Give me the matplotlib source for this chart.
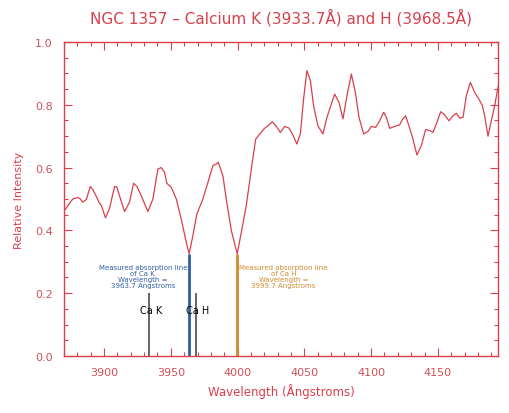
import numpy as np
import matplotlib
matplotlib.use("Agg")
import matplotlib.pyplot as plt
from matplotlib.ticker import MultipleLocator

# espectro de NGC 1357 (comprimento de onda em Angstroms, intensidade relativa)
wavelength = [3869.7, 3876.6, 3880.4, 3882.2, 3884.1, 3886.7, 3889.7, 3891.6, 3894.6, 3896.1,
              3897.9, 3901.1, 3904.1, 3907.9, 3909.6, 3911.6, 3915.4, 3919.1, 3922.1, 3924.6,
              3927.9, 3932.8, 3936.6, 3940.3, 3942.8, 3945.3, 3947.0, 3950.3, 3954.1, 3957.8,
              3961.0, 3963.7, 3966.5, 3969.5, 3974.0, 3977.8, 3981.5, 3984.0, 3985.5, 3989.0,
              3991.5, 3995.3, 3999.7, 4002.8, 4006.5, 4010.3, 4013.5, 4016.5, 4020.2, 4022.7,
              4026.0, 4029.0, 4032.0, 4035.2, 4038.4, 4041.4, 4044.4, 4047.0, 4049.4, 4051.9,
              4054.5, 4056.9, 4060.1, 4063.9, 4066.9, 4069.4, 4072.7, 4075.9, 4078.9, 4081.9,
              4085.2, 4088.4, 4090.9, 4094.4, 4097.6, 4100.1, 4103.4, 4106.4, 4109.4, 4111.4,
              4113.9, 4117.6, 4121.3, 4123.4, 4125.8, 4128.3, 4131.3, 4134.3, 4137.6, 4140.8,
              4143.8, 4146.3, 4149.3, 4152.1, 4155.1, 4158.3, 4161.3, 4163.8, 4166.3, 4168.8,
              4171.3, 4174.3, 4177.5, 4180.7, 4183.3, 4185.0, 4187.5, 4190.0, 4192.5, 4195.0]
intensity = [0.460, 0.500, 0.505, 0.500, 0.490, 0.498, 0.540, 0.530, 0.505, 0.490,
             0.480, 0.440, 0.470, 0.540, 0.538, 0.510, 0.460, 0.490, 0.550, 0.540,
             0.510, 0.460, 0.500, 0.595, 0.600, 0.585, 0.550, 0.537, 0.500, 0.436,
             0.373, 0.325, 0.383, 0.452, 0.500, 0.553, 0.606, 0.611, 0.617, 0.574,
             0.500, 0.400, 0.325, 0.394, 0.479, 0.596, 0.690, 0.707, 0.725, 0.733,
             0.746, 0.731, 0.712, 0.731, 0.726, 0.704, 0.675, 0.707, 0.818, 0.909,
             0.877, 0.797, 0.733, 0.707, 0.760, 0.792, 0.834, 0.808, 0.755, 0.829,
             0.898, 0.834, 0.760, 0.707, 0.715, 0.731, 0.728, 0.749, 0.776, 0.760,
             0.725, 0.731, 0.736, 0.753, 0.765, 0.733, 0.691, 0.640, 0.670, 0.721,
             0.718, 0.712, 0.744, 0.778, 0.768, 0.749, 0.765, 0.773, 0.757, 0.760,
             0.829, 0.871, 0.840, 0.818, 0.797, 0.765, 0.700, 0.749, 0.797, 0.856]

# linhas de referencia (laboratorio) e linhas medidas
lab_lines = [3933.7, 3968.5]
lab_names = ["Ca K", "Ca H"]
lab_height = 0.2
measured_k = 3963.7
measured_h = 3999.7
measured_depth = 0.325

vermelho = "#d8404c"
azul = "#2f5fa3"
laranja = "#d08a2c"

fig = plt.figure(figsize=(5.09, 4.14), dpi=100)
ax = fig.add_axes([0.1257, 0.1377, 0.8527, 0.7585])

ax.plot(wavelength, intensity, color=vermelho, lw=0.9)

# linhas do Ca de laboratorio
for wl, nome in zip(lab_lines, lab_names):
    ax.vlines(wl, 0, lab_height, color="#4a4a4a", lw=1.2)
    ax.text(wl - 7.0, 0.145, nome, fontsize=7, color="black", ha="left", va="center")

# linhas medidas
ax.vlines(measured_k, 0, measured_depth, color=azul, lw=2.0)
ax.vlines(measured_h, 0, measured_depth, color=laranja, lw=2.0)

ax.text(measured_k - 1.5, 0.255,
        "Measured absorption line\nof Ca K\nWavelength =\n%.1f Angstroms" % measured_k,
        fontsize=5, color=azul, ha="right", va="center", multialignment="center",
        linespacing=1.05)
ax.text(measured_h + 1.5, 0.255,
        "Measured absorption line\nof Ca H\nWavelength =\n%.1f Angstroms" % measured_h,
        fontsize=5, color=laranja, ha="left", va="center", multialignment="center",
        linespacing=1.05)

ax.set_xlim(3870, 4195)
ax.set_ylim(0, 1.0)
ax.xaxis.set_major_locator(MultipleLocator(50))
ax.xaxis.set_minor_locator(MultipleLocator(10))
ax.yaxis.set_major_locator(MultipleLocator(0.2))
ax.yaxis.set_minor_locator(MultipleLocator(0.05))
ax.yaxis.set_major_formatter(matplotlib.ticker.FormatStrFormatter("%.1f"))

ax.tick_params(which="both", direction="in", top=True, right=True,
               color=vermelho, labelcolor="#d0505a", labelsize=8)
ax.tick_params(which="major", length=6, width=0.8, pad=8)
ax.tick_params(which="minor", length=3, width=0.8)
for s in ax.spines.values():
    s.set_color(vermelho)
    s.set_linewidth(1.0)

ax.set_xlabel("Wavelength (Ångstroms)", color=vermelho, fontsize=8.5, labelpad=4)
ax.set_ylabel("Relative Intensity", color=vermelho, fontsize=8, labelpad=8)
ax.set_title("NGC 1357 – Calcium K (3933.7Å) and H (3968.5Å)",
             color=vermelho, fontsize=11, pad=14)

fig.savefig("out.png", dpi=100)
